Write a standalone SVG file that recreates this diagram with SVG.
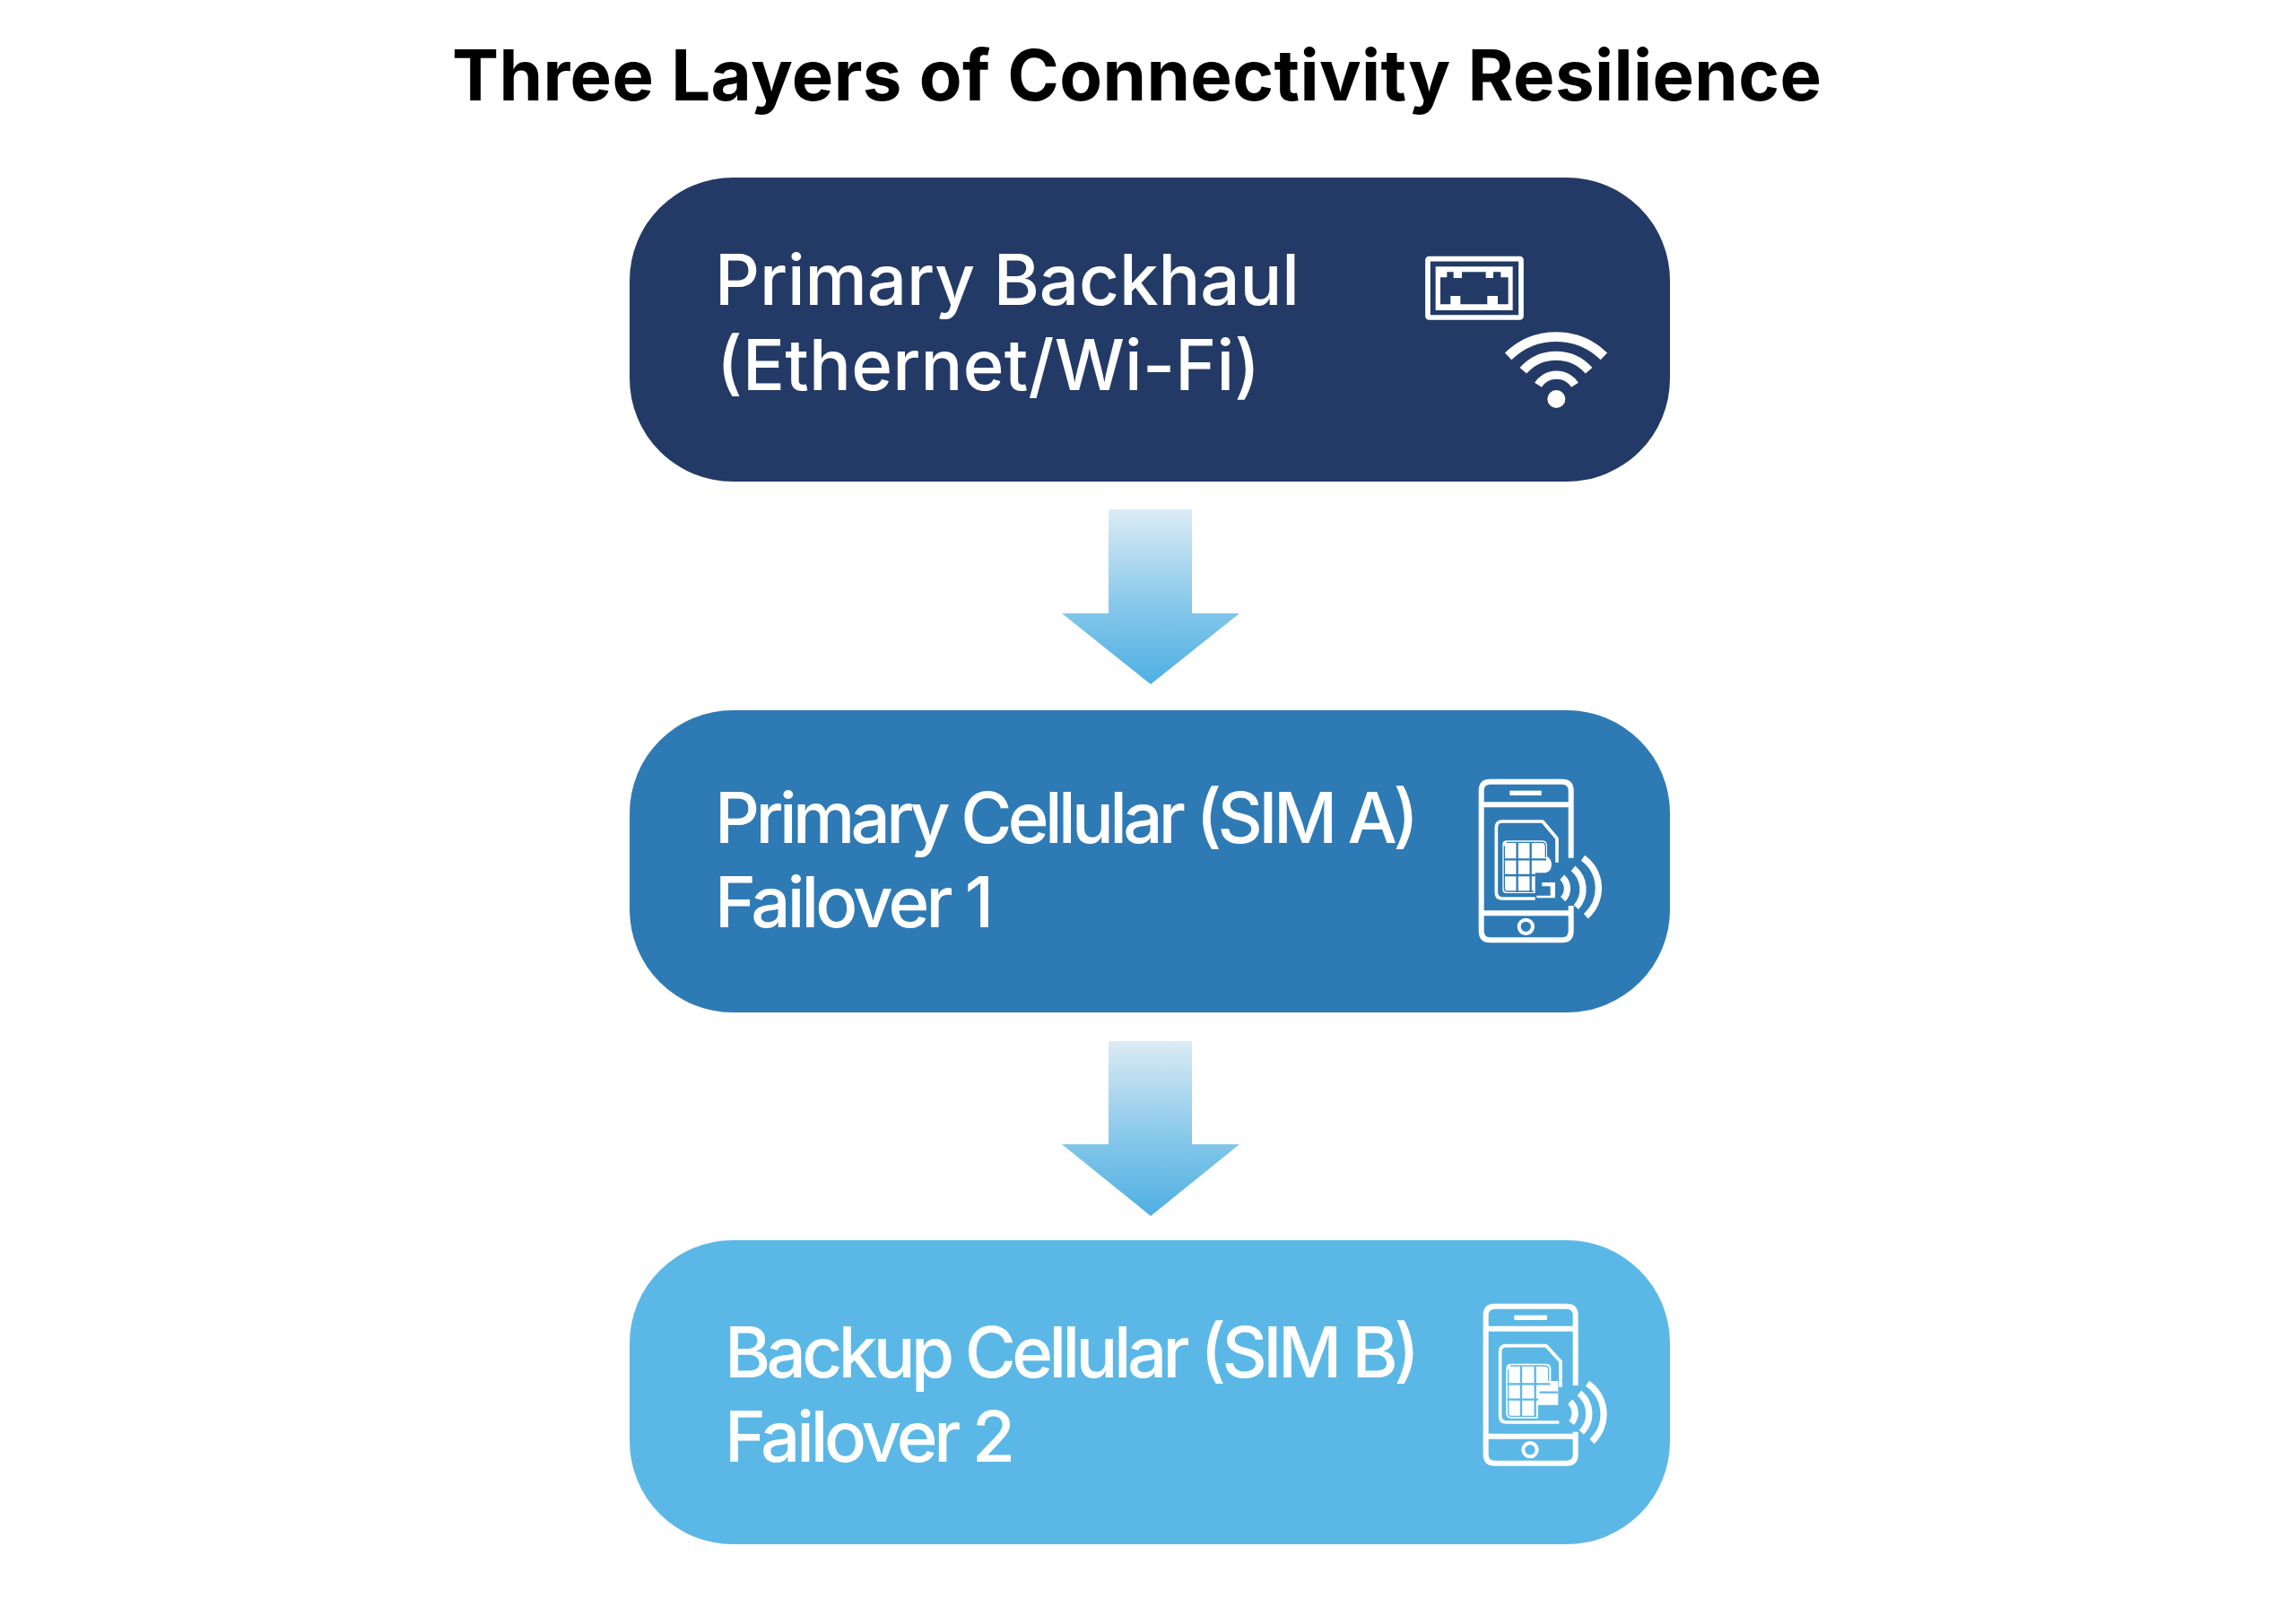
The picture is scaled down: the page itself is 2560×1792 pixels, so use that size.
<svg xmlns="http://www.w3.org/2000/svg" width="2560" height="1792" viewBox="0 0 2560 1792">
<style>
.title{font:700 78px Inter,"Liberation Sans",sans-serif;fill:#000}
.lbl{font:500 78px Inter,"Liberation Sans",sans-serif;fill:#fff}
.ln{fill:none;stroke:#fff;stroke-width:18;stroke-linejoin:round}
.thin{fill:none;stroke:#fff;stroke-width:11;stroke-linejoin:round}
.w{fill:#fff}
</style>
<defs>
<linearGradient id="ag" x1="0" y1="0" x2="0" y2="1"><stop offset="0" stop-color="#dcebf5"/><stop offset="0.55" stop-color="#86c8ea"/><stop offset="1" stop-color="#4eafe2"/></linearGradient>
</defs>
<rect width="2560" height="1792" fill="#fff"/>
<text class="title" x="504" y="112" textLength="1527">Three Layers of Connectivity Resilience</text>
<g id="connectors">
<polygon id="arrow1" fill="url(#ag)" points="1236,568 1329,568 1329,684 1382,684 1283,763 1184,684 1236,684"/>
<polygon id="arrow2" fill="url(#ag)" points="1236,1161 1329,1161 1329,1276 1382,1276 1283,1356 1184,1276 1236,1276"/>
</g>
<g id="node-primary-backhaul">
<rect x="702" y="198" width="1160" height="339" rx="115" fill="#243a66"/>
<text class="lbl" x="797" y="340" textLength="652">Primary Backhaul</text>
<text class="lbl" x="799" y="435" textLength="606">(Ethernet/Wi-Fi)</text>
<g transform="translate(1500 240) scale(.3333)">
<rect x="276" y="146" width="312" height="196" rx="4" fill="none" stroke="#fff" stroke-width="17"/>
<path class="w" fill-rule="evenodd" d="M302 172H560V318H302ZM318 208V298H352V270H385V298H475V270H510V298H545V208H520V190H495V210H470V190H390V210H362V190H340V208Z"/>
<g fill="none" stroke="#fff">
<path stroke-width="32" d="M545 472A229 229 0 0 1 865 472"/>
<path stroke-width="30" d="M595 520A146 146 0 0 1 815 520"/>
<path stroke-width="28" d="M645 568A73 73 0 0 1 768 568"/>
</g>
<circle class="w" cx="706" cy="615" r="30"/>
</g>
</g>
<g id="node-primary-cellular">
<rect x="702" y="792" width="1160" height="337" rx="115" fill="#2e7ab5"/>
<text class="lbl" x="797" y="940" textLength="785">Primary Cellular (SIM A)</text>
<text class="lbl" x="797" y="1034" textLength="311">Failover 1</text>
<g transform="translate(1600 840) scale(.3333)">
<path class="ln" d="M455 350V125Q455 95 425 95H185Q155 95 155 125V595Q155 625 185 625H425Q455 625 455 595V510"/>
<path class="ln" d="M155 172H455M155 535H455"/>
<rect class="w" x="250" y="125" width="106" height="16"/>
<circle cx="304" cy="580" r="23" fill="none" stroke="#fff" stroke-width="12"/>
<path class="thin" d="M335 486H225Q205 486 205 466V248Q205 228 225 228H360L408 285V365"/>
<path class="w" d="M240 292H360Q375 292 375 310V345Q390 355 390 372Q390 395 370 400H335V468H240Q226 468 226 455V305Q226 292 240 292Z"/>
<path fill="none" stroke="#2e7ab5" stroke-width="4" d="M240 298H358Q370 298 370 312V348M232 310V452Q232 462 242 462H330"/>
<path fill="none" stroke="#2e7ab5" stroke-width="7" d="M275 298V465M320 298V465M232 355H372M232 408H335"/>
<path class="w" d="M358 432H402V484H340V476H386V445H358Z"/>
<g fill="none" stroke="#fff" stroke-width="22">
<path d="M425 415A50 50 0 0 1 428 488"/>
<path d="M462 385A90 90 0 0 1 472 515"/>
<path d="M495 350A125 125 0 0 1 505 545"/>
</g>
</g>
</g>
<g id="node-backup-cellular">
<rect x="702" y="1383" width="1160" height="339" rx="115" fill="#5bb8e6"/>
<text class="lbl" x="808" y="1536" textLength="775">Backup Cellular (SIM B)</text>
<text class="lbl" x="808" y="1630" textLength="324">Failover 2</text>
<g transform="translate(1600 1430) scale(.3333)">
<path class="ln" d="M470 345V110Q470 80 440 80H200Q170 80 170 110V575Q170 605 200 605H440Q470 605 470 575V500"/>
<path class="ln" d="M170 155H470M170 515H470"/>
<rect class="w" x="265" y="110" width="110" height="16"/>
<circle cx="318" cy="560" r="23" fill="none" stroke="#fff" stroke-width="12"/>
<path class="thin" d="M415 468H238Q218 468 218 448V232Q218 212 238 212H372L420 265V350"/>
<path class="w" d="M255 272H370Q388 272 388 290V330H412V410H345V455H255Q238 455 238 438V290Q238 272 255 272Z"/>
<path fill="none" stroke="#5bb8e6" stroke-width="4" d="M252 279H368Q380 279 380 292V330M245 292V438Q245 448 256 448H340"/>
<path fill="none" stroke="#5bb8e6" stroke-width="7" d="M288 279V450M335 279V450M242 340H385M242 392H345M350 368H412"/>
<g fill="none" stroke="#fff" stroke-width="22">
<path d="M452 400A50 50 0 0 1 456 470"/>
<path d="M483 370A90 90 0 0 1 490 502"/>
<path d="M510 338A125 125 0 0 1 525 532"/>
</g>
</g>
</g>
</svg>
